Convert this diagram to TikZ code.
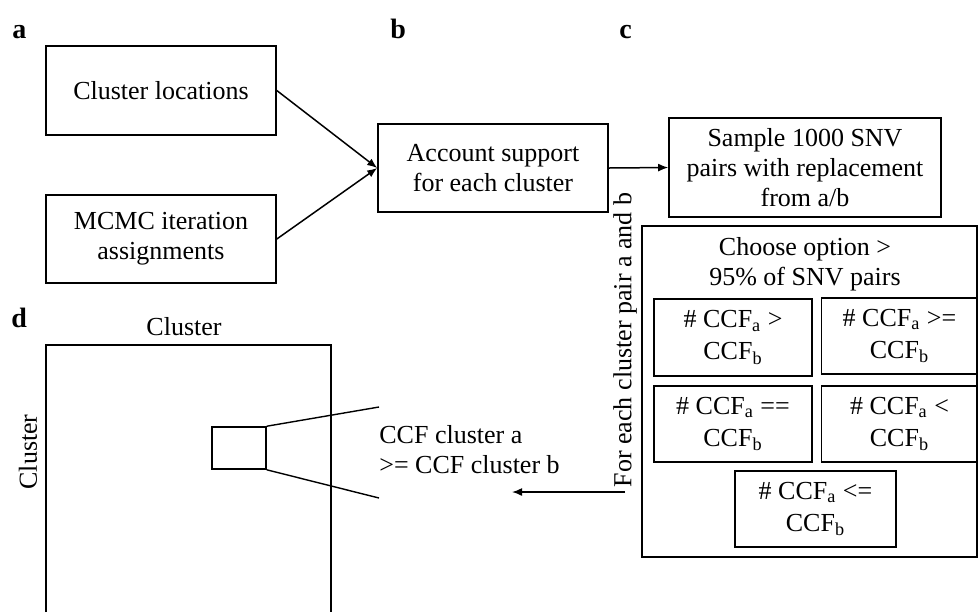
\documentclass[tikz,border=0pt]{standalone}
\usepackage{fontspec}
\setmainfont{Liberation Serif}
\usepackage{tikz}
\usetikzlibrary{positioning}
\usetikzlibrary{arrows.meta}

\begin{document}
\begin{tikzpicture}[x=0.5pt,y=-0.5pt,
    box/.style={draw=black,line width=0.8pt,rectangle,align=center,inner sep=0pt,
font=\fontsize{13}{15}\selectfont},
    cmp/.style={box,font=\fontsize{13}{16}\selectfont},
    txt/.style={inner sep=0pt,align=center,font=\fontsize{13}{15}\selectfont},
    panel/.style={inner sep=0pt,anchor=base west,font=\fontsize{14}{16}\selectfont\bfseries},
    link/.style={line width=0.75pt,-{Latex[length=5pt,width=4pt]}}]
\useasboundingbox (0,0) rectangle (979,612);
% panel letters
\node[panel] (pa) at (12,38) {a};
\node[panel] (pb) at (390,38) {b};
\node[panel] (pc) at (619,38) {c};
\node[panel] (pd) at (11,327) {d};
% a, b
\node[box, minimum width=115pt, minimum height=44.5pt] (loc) at (161,90.5) {Cluster locations};
\node[box, minimum width=115pt, minimum height=44pt] (mcmc) at (161,239) {MCMC iteration\\assignments};
\node[box, minimum width=115pt, minimum height=44pt] (acc) at (493,168) {Account support\\for each cluster};
% c
\node[box, minimum width=136pt, minimum height=49.5pt] (samp) at (805,167.5) {Sample 1000 SNV\\pairs with replacement\\from a/b};
\node[box, minimum width=167.5pt, minimum height=165.5pt] (opt) at (809.5,391.5) {};
\node[txt] (choose) at (805,264) {Choose option >\\95\% of SNV pairs};
\node[cmp, minimum width=79pt, minimum height=38.5pt] (gt) at (733,337.5) {\# CCF\textsubscript{a} >\\CCF\textsubscript{b}};
\node[cmp, minimum width=78pt, minimum height=38pt] (ge) at (899.5,336) {\# CCF\textsubscript{a} >=\\CCF\textsubscript{b}};
\node[cmp, minimum width=79pt, minimum height=38pt] (eq) at (733,424) {\# CCF\textsubscript{a} ==\\CCF\textsubscript{b}};
\node[cmp, minimum width=78pt, minimum height=38pt] (lt) at (899.5,424) {\# CCF\textsubscript{a} <\\CCF\textsubscript{b}};
\node[cmp, minimum width=80.5pt, minimum height=38pt] (le) at (815.5,509) {\# CCF\textsubscript{a} <=\\CCF\textsubscript{b}};
\node[txt, rotate=90] (pair) at (625,340) {For each cluster pair a and b};
% d
\node[txt, anchor=base] (top) at (184,335) {Cluster};
\node[txt, rotate=90] (side) at (28,452) {Cluster};
\draw[line width=0.8pt] (46,612) -- (46,345) -- (331,345) -- (331,612);
\node[box, minimum width=27pt, minimum height=21pt] (hm) at (239,448) {};
\node[txt, anchor=west, align=left] (res) at (379,450) {CCF cluster a\\>= CCF cluster b};
\coordinate (zt) at (379,407);
\coordinate (zb) at (379,498);
\coordinate (tip) at (512,492);

\draw[link] (loc.east) -- (acc.west);
\draw[link] (mcmc.east) -- (acc.west);
\draw[link] (acc.east) -- (samp.west);
\draw[link] (pair.west |- tip) -- (tip);
\draw[line width=0.7pt] (hm.north east) -- (zt);
\draw[line width=0.7pt] (hm.south east) -- (zb);
\end{tikzpicture}
\end{document}
